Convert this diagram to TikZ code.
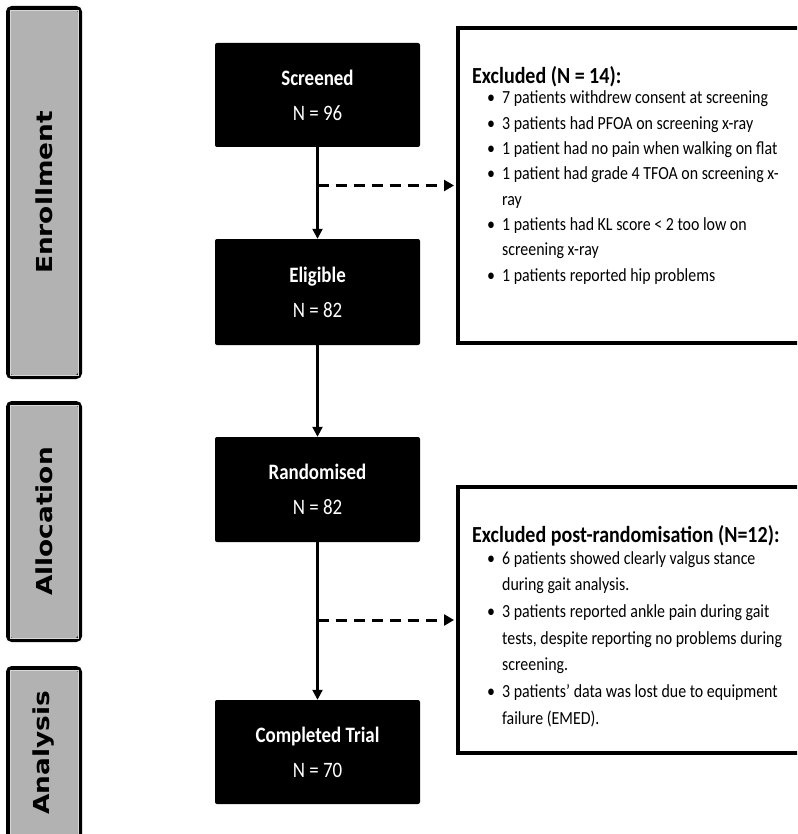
\documentclass[tikz,border=0pt]{standalone}
\usepackage{fontspec}
\setmainfont{Carlito}
\newfontfamily\bandfont{DejaVu Sans}
\usetikzlibrary{arrows.meta}
\definecolor{bandgray}{RGB}{178,178,178}
\definecolor{bandline}{RGB}{215,215,215}
\newcommand\exbul{\makebox[17.4pt][l]{\textbullet}}
\newcommand\exind{\hspace*{17.4pt}}
\newcommand\narrow[1]{\scalebox{0.86}[1]{#1}}
\tikzset{
 band/.style={draw=black, line width=4pt, fill=bandgray, rounded corners=4pt, minimum width=72pt, inner sep=0pt},
 bandin/.style={draw=bandline, line width=0.8pt},
 bandtext/.style={rotate=90, font=\bandfont\bfseries\fontsize{22}{26}\selectfont, inner sep=0pt},
 stagebox/.style={fill=black, rounded corners=2pt, minimum width=205pt, text=white, align=center, font=\fontsize{22}{35}\selectfont, inner sep=0pt},
 exbox/.style={draw=black, line width=4pt, fill=white, minimum width=352pt, inner sep=0pt},
 flow/.style={line width=2.2pt, -{Triangle[length=10pt,width=10pt]}},
 dashflow/.style={line width=3pt, dash pattern=on 11pt off 7pt, -{Triangle[length=10pt,width=11pt]}, shorten >=2pt},
 extitle/.style={font=\bfseries\fontsize{23}{26}\selectfont, anchor=base west, inner sep=0pt},
 exlist/.style={anchor=base west, inner sep=0pt},
}
\begin{document}
\begin{tikzpicture}[x=1pt,y=-1pt]
\useasboundingbox (0,0) rectangle (797,834);
\clip (0,0) rectangle (797,834);
% stage bands
\node[band, minimum height=369pt] (en) at (44,192.5) {};
\node[band, minimum height=237pt] (al) at (44,521.5) {};
\node[band, minimum height=170pt] (an) at (44,753) {};
\foreach \b in {en,al,an}{
  \draw[bandin] ([shift={(4,4)}]\b.north west) rectangle ([shift={(-4,-4)}]\b.south east);
}
\node[bandtext] (enT) at (en.center) {\scalebox{1.2}[1]{Enrollment}};
\node[bandtext] (alT) at (al.center) {\scalebox{1.2}[1]{Allocation}};
\node[bandtext] (anT) at (an.center) {\scalebox{1.2}[1]{Analysis}};
% main boxes
\node[stagebox, minimum height=104pt] (scr) at (317.5,95) {\narrow{\textbf{Screened}}\\\narrow{N = 96}};
\node[stagebox, minimum height=106pt] (eli) at (317.5,292) {\narrow{\textbf{Eligible}}\\\narrow{N = 82}};
\node[stagebox, minimum height=105pt] (ran) at (317.5,489.5) {\narrow{\textbf{Randomised}}\\\narrow{N = 82}};
\node[stagebox, minimum height=104pt] (com) at (317.5,752) {\narrow{\textbf{Completed Trial}}\\\narrow{N = 70}};
% exclusion boxes
\node[exbox, minimum height=315pt] (ex1) at (634,185.5) {};
\node[exbox, minimum height=266pt] (ex2) at (634,620) {};
% connectors
\draw[flow] (scr.south) -- (eli.north);
\draw[flow] (eli.south) -- (ran.north);
\draw[flow] (ran.south) -- (com.north);
\draw[dashflow] (scr.south |- ex1.west) -- (ex1.west);
\draw[dashflow] (ran.south |- ex2.west) -- (ex2.west);
% exclusion texts
\node[extitle] (t1) at (472,84) {\scalebox{0.87}[1]{Excluded (N = 14):}};
\node[exlist] (l1) at (487,104) {\narrow{\parbox[t]{360pt}{\raggedright\fontsize{18.5}{25.3}\selectfont
\exbul 7 patients withdrew consent at screening\\
\exbul 3 patients had PFOA on screening x-ray\\
\exbul 1 patient had no pain when walking on flat\\
\exbul 1 patient had grade 4 TFOA on screening x-\\
\exind ray\\
\exbul 1 patients had KL score < 2 too low on\\
\exind screening x-ray\\
\exbul 1 patients reported hip problems}}};
\node[extitle] (t2) at (472,542) {\scalebox{0.87}[1]{Excluded post-randomisation (N=12):}};
\node[exlist] (l2) at (487,564) {\narrow{\parbox[t]{360pt}{\raggedright\fontsize{18.5}{26.7}\selectfont
\exbul 6 patients showed clearly valgus stance\\
\exind during gait analysis.\\
\exbul 3 patients reported ankle pain during gait\\
\exind tests, despite reporting no problems during\\
\exind screening.\\
\exbul 3 patients’ data was lost due to equipment\\
\exind failure (EMED).}}};
\end{tikzpicture}
\end{document}
